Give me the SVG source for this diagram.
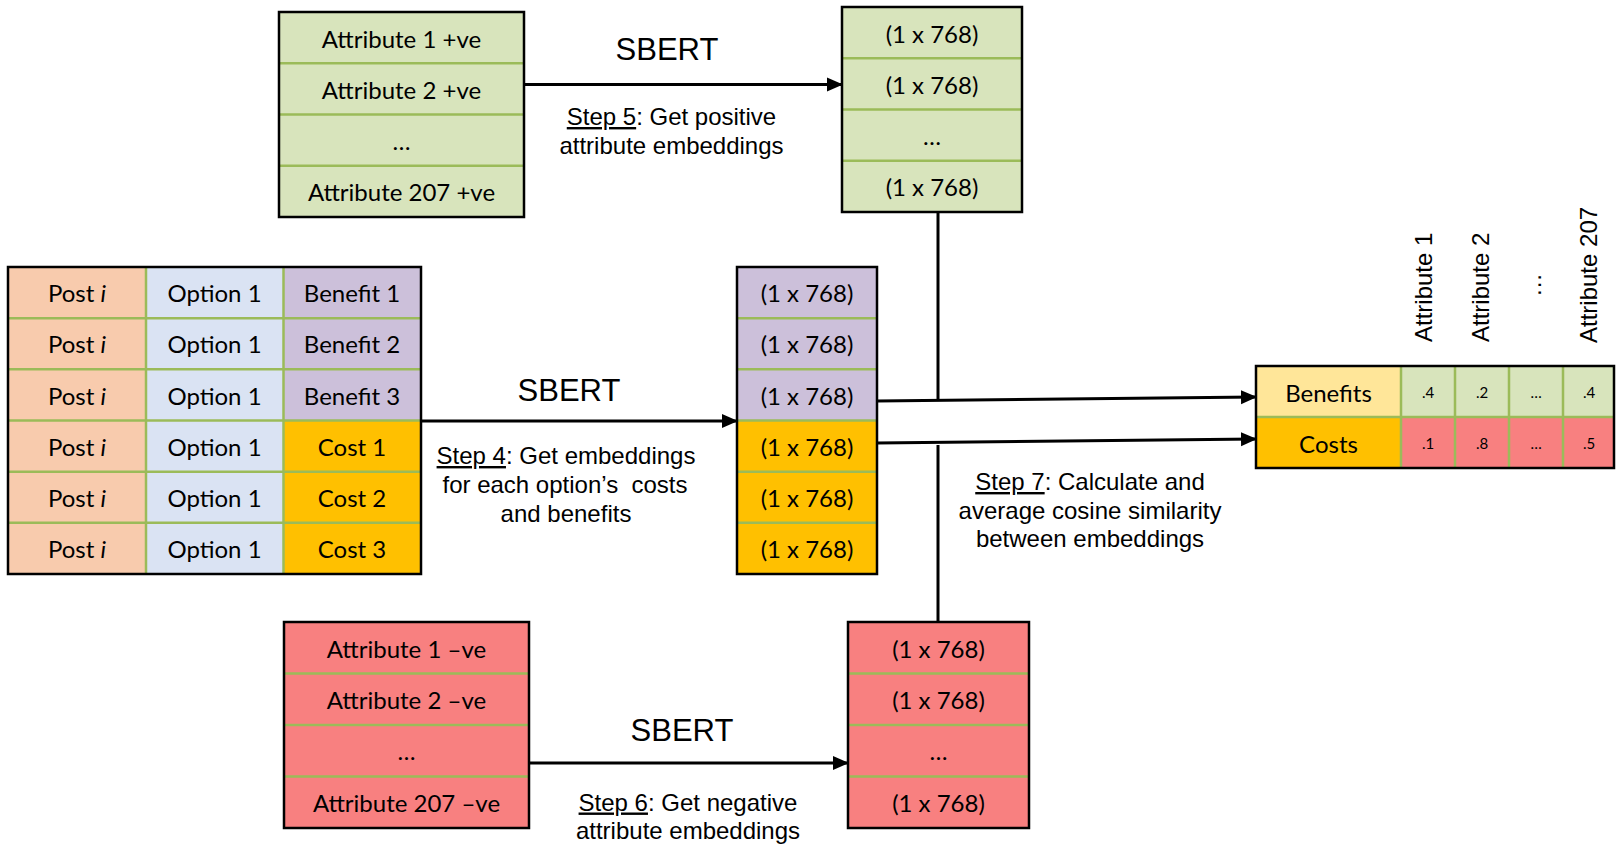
<svg xmlns="http://www.w3.org/2000/svg" width="1616" height="845" viewBox="0 0 1616 845">
<style>
  .bg { fill: #ffffff; }
  .box { fill: none; stroke: #000000; stroke-width: 2.5; }
  .sep { stroke: #9BBB59; stroke-width: 2.5; }
  .g { fill: #D8E4BC; }
  .r { fill: #F88080; }
  .pe { fill: #F8CBAD; }
  .lb { fill: #DAE3F3; }
  .lv { fill: #CCC0DA; }
  .or { fill: #FFC000; }
  .ye { fill: #FFE699; }
  .c { font-family: "Lato", "Carlito", "Liberation Sans", sans-serif; font-size: 24px; fill: #000; text-anchor: middle; }
  .v { font-family: "Lato", "Carlito", "Liberation Sans", sans-serif; font-size: 15px; fill: #000; text-anchor: middle; }
  .a { font-family: "Liberation Sans", Arial, sans-serif; font-size: 24px; fill: #000; text-anchor: middle; }
  .sb { font-family: "Liberation Sans", Arial, sans-serif; font-size: 31px; fill: #000; text-anchor: middle; }
  .rot { font-family: "Liberation Sans", Arial, sans-serif; font-size: 24px; fill: #000; }
  .u { text-decoration: underline; }
  .ln { fill: none; stroke: #000000; stroke-width: 3; }
</style>
<defs>
  <marker id="arr" markerUnits="userSpaceOnUse" markerWidth="16" markerHeight="16" viewBox="0 0 16 16" refX="15" refY="8" orient="auto">
    <path d="M0,1 L16,8 L0,15 Z" fill="#000"/>
  </marker>
</defs>
<rect class="bg" x="0" y="0" width="1616" height="845"/>

<!-- Top: positive attributes -->
<g id="attr-pos">
  <rect class="g" x="279" y="12" width="245" height="205"/>
  <line class="sep" x1="280" y1="63.3" x2="523" y2="63.3"/>
  <line class="sep" x1="280" y1="114.5" x2="523" y2="114.5"/>
  <line class="sep" x1="280" y1="165.8" x2="523" y2="165.8"/>
  <rect class="box" x="279" y="12" width="245" height="205"/>
  <text class="c" x="401.5" y="47.5">Attribute 1 +ve</text>
  <text class="c" x="401.5" y="98.5">Attribute 2 +ve</text>
  <text class="c" x="401.5" y="149.5">…</text>
  <text class="c" x="401.5" y="201">Attribute 207 +ve</text>
</g>

<g id="emb-pos">
  <rect class="g" x="842" y="7" width="180" height="205"/>
  <line class="sep" x1="843" y1="58.3" x2="1021" y2="58.3"/>
  <line class="sep" x1="843" y1="109.5" x2="1021" y2="109.5"/>
  <line class="sep" x1="843" y1="160.8" x2="1021" y2="160.8"/>
  <rect class="box" x="842" y="7" width="180" height="205"/>
  <text class="c" x="932" y="43">(1 x 768)</text>
  <text class="c" x="932" y="94">(1 x 768)</text>
  <text class="c" x="932" y="145">…</text>
  <text class="c" x="932" y="196">(1 x 768)</text>
</g>

<!-- Options table -->
<g id="options">
  <rect class="pe" x="8" y="267" width="138" height="307"/>
  <rect class="lb" x="146" y="267" width="137.5" height="307"/>
  <rect class="lv" x="283.5" y="267" width="137.5" height="153.5"/>
  <rect class="or" x="283.5" y="420.5" width="137.5" height="153.5"/>
  <line class="sep" x1="146" y1="268" x2="146" y2="573"/>
  <line class="sep" x1="283.5" y1="268" x2="283.5" y2="573"/>
  <line class="sep" x1="9" y1="318.2" x2="420" y2="318.2"/>
  <line class="sep" x1="9" y1="369.3" x2="420" y2="369.3"/>
  <line class="sep" x1="9" y1="420.5" x2="420" y2="420.5"/>
  <line class="sep" x1="9" y1="471.7" x2="420" y2="471.7"/>
  <line class="sep" x1="9" y1="522.8" x2="420" y2="522.8"/>
  <rect class="box" x="8" y="267" width="413" height="307"/>
  <text class="c" x="77" y="302">Post <tspan font-style="italic">i</tspan></text>
  <text class="c" x="77" y="353">Post <tspan font-style="italic">i</tspan></text>
  <text class="c" x="77" y="404.5">Post <tspan font-style="italic">i</tspan></text>
  <text class="c" x="77" y="455.5">Post <tspan font-style="italic">i</tspan></text>
  <text class="c" x="77" y="507">Post <tspan font-style="italic">i</tspan></text>
  <text class="c" x="77" y="558">Post <tspan font-style="italic">i</tspan></text>
  <text class="c" x="214.5" y="302">Option 1</text>
  <text class="c" x="214.5" y="353">Option 1</text>
  <text class="c" x="214.5" y="404.5">Option 1</text>
  <text class="c" x="214.5" y="455.5">Option 1</text>
  <text class="c" x="214.5" y="507">Option 1</text>
  <text class="c" x="214.5" y="558">Option 1</text>
  <text class="c" x="352" y="302">Benefit 1</text>
  <text class="c" x="352" y="353">Benefit 2</text>
  <text class="c" x="352" y="404.5">Benefit 3</text>
  <text class="c" x="352" y="455.5">Cost 1</text>
  <text class="c" x="352" y="507">Cost 2</text>
  <text class="c" x="352" y="558">Cost 3</text>
</g>

<g id="emb-opt">
  <rect class="lv" x="737" y="267" width="140" height="153.5"/>
  <rect class="or" x="737" y="420.5" width="140" height="153.5"/>
  <line class="sep" x1="738" y1="318.2" x2="876" y2="318.2"/>
  <line class="sep" x1="738" y1="369.3" x2="876" y2="369.3"/>
  <line class="sep" x1="738" y1="420.5" x2="876" y2="420.5"/>
  <line class="sep" x1="738" y1="471.7" x2="876" y2="471.7"/>
  <line class="sep" x1="738" y1="522.8" x2="876" y2="522.8"/>
  <rect class="box" x="737" y="267" width="140" height="307"/>
  <text class="c" x="807" y="302">(1 x 768)</text>
  <text class="c" x="807" y="353">(1 x 768)</text>
  <text class="c" x="807" y="404.5">(1 x 768)</text>
  <text class="c" x="807" y="455.5">(1 x 768)</text>
  <text class="c" x="807" y="507">(1 x 768)</text>
  <text class="c" x="807" y="558">(1 x 768)</text>
</g>

<!-- Bottom: negative attributes -->
<g id="attr-neg">
  <rect class="r" x="284" y="622" width="245" height="206"/>
  <line class="sep" x1="285" y1="673.5" x2="528" y2="673.5"/>
  <line class="sep" x1="285" y1="725" x2="528" y2="725"/>
  <line class="sep" x1="285" y1="776.5" x2="528" y2="776.5"/>
  <rect class="box" x="284" y="622" width="245" height="206"/>
  <text class="c" x="406.5" y="657.5">Attribute 1 –ve</text>
  <text class="c" x="406.5" y="709">Attribute 2 –ve</text>
  <text class="c" x="406.5" y="760">…</text>
  <text class="c" x="406.5" y="812">Attribute 207 –ve</text>
</g>

<g id="emb-neg">
  <rect class="r" x="848" y="622" width="181" height="206"/>
  <line class="sep" x1="849" y1="673.5" x2="1028" y2="673.5"/>
  <line class="sep" x1="849" y1="725" x2="1028" y2="725"/>
  <line class="sep" x1="849" y1="776.5" x2="1028" y2="776.5"/>
  <rect class="box" x="848" y="622" width="181" height="206"/>
  <text class="c" x="938.5" y="657.5">(1 x 768)</text>
  <text class="c" x="938.5" y="709">(1 x 768)</text>
  <text class="c" x="938.5" y="760">…</text>
  <text class="c" x="938.5" y="812">(1 x 768)</text>
</g>

<!-- Results table -->
<g id="results">
  <rect class="ye" x="1256" y="366" width="145" height="51"/>
  <rect class="or" x="1256" y="417" width="145" height="51"/>
  <rect class="g" x="1401" y="366" width="213" height="51"/>
  <rect class="r" x="1401" y="417" width="213" height="51"/>
  <line class="sep" x1="1401" y1="367" x2="1401" y2="467"/>
  <line class="sep" x1="1455" y1="367" x2="1455" y2="467"/>
  <line class="sep" x1="1509" y1="367" x2="1509" y2="467"/>
  <line class="sep" x1="1563" y1="367" x2="1563" y2="467"/>
  <line class="sep" x1="1257" y1="417" x2="1613" y2="417"/>
  <rect class="box" x="1256" y="366" width="358" height="102"/>
  <text class="c" x="1328.5" y="402">Benefits</text>
  <text class="c" x="1328.5" y="453">Costs</text>
  <text class="v" x="1428" y="398">.4</text>
  <text class="v" x="1482" y="398">.2</text>
  <text class="v" x="1536" y="398">…</text>
  <text class="v" x="1589" y="398">.4</text>
  <text class="v" x="1428" y="449">.1</text>
  <text class="v" x="1482" y="449">.8</text>
  <text class="v" x="1536" y="449">…</text>
  <text class="v" x="1589" y="449">.5</text>
  <text class="rot" transform="translate(1432,342) rotate(-90)">Attribute 1</text>
  <text class="rot" transform="translate(1489,342) rotate(-90)">Attribute 2</text>
  <text class="rot" transform="translate(1541,297) rotate(-90)">…</text>
  <text class="rot" transform="translate(1597,343) rotate(-90)">Attribute 207</text>
</g>

<!-- Connectors -->
<g id="connectors">
  <line class="ln" x1="524" y1="84.5" x2="842" y2="84.5" marker-end="url(#arr)"/>
  <line class="ln" x1="421" y1="421" x2="737" y2="421" marker-end="url(#arr)"/>
  <line class="ln" x1="529" y1="763" x2="848" y2="763" marker-end="url(#arr)"/>
  <line class="ln" x1="877" y1="401" x2="1256" y2="397" marker-end="url(#arr)"/>
  <line class="ln" x1="877" y1="443" x2="1256" y2="439" marker-end="url(#arr)"/>
  <line class="ln" x1="938" y1="212" x2="938" y2="400"/>
  <line class="ln" x1="938" y1="445" x2="938" y2="622"/>
</g>

<!-- Labels -->
<g id="labels">
  <text class="sb" x="667" y="59.5">SBERT</text>
  <text class="a" x="671.5" y="125"><tspan class="u">Step 5</tspan>: Get positive</text>
  <text class="a" x="671.5" y="153.5">attribute embeddings</text>
  <text class="sb" x="569" y="400.5">SBERT</text>
  <text class="a" x="566" y="464"><tspan class="u">Step 4</tspan>: Get embeddings</text>
  <text class="a" x="565" y="493" xml:space="preserve">for each option’s  costs</text>
  <text class="a" x="566" y="521.5">and benefits</text>
  <text class="a" x="1090" y="490"><tspan class="u">Step 7</tspan>: Calculate and</text>
  <text class="a" x="1090" y="518.5">average cosine similarity</text>
  <text class="a" x="1090" y="547">between embeddings</text>
  <text class="sb" x="682" y="741">SBERT</text>
  <text class="a" x="688" y="810.5"><tspan class="u">Step 6</tspan>: Get negative</text>
  <text class="a" x="688" y="839">attribute embeddings</text>
</g>
</svg>
